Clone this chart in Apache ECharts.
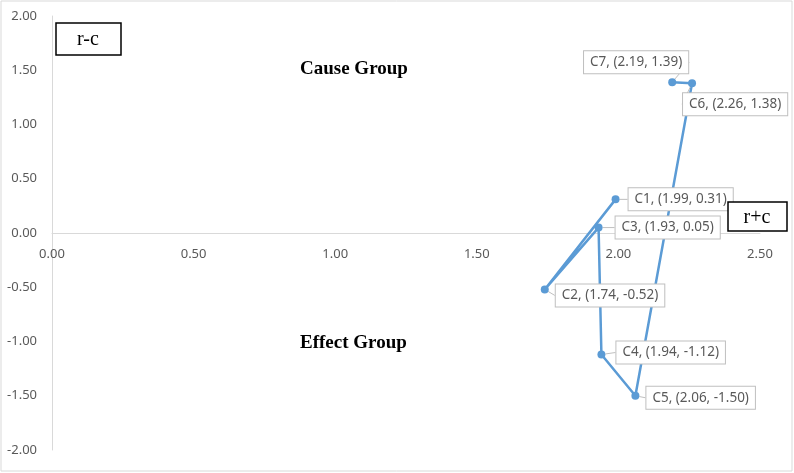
<!DOCTYPE html>
<html>
<head>
<meta charset="utf-8">
<script src="https://cdn.jsdelivr.net/npm/echarts@6/dist/echarts.min.js"></script>
<style>
  html, body { margin: 0; padding: 0; background: #fff; }
  #main { width: 794px; height: 473px; }
</style>
</head>
<body>
<div id="main"></div>
<script>
// criteria names and (r+c, r-c) values
var names = ['C1', 'C2', 'C3', 'C4', 'C5', 'C6', 'C7'];
var rPlusC = [1.99, 1.74, 1.93, 1.94, 2.06, 2.26, 2.19];
var rMinusC = [0.31, -0.52, 0.05, -1.12, -1.50, 1.38, 1.39];

var tickFont = 'Noto Sans';
var blue = '#5b9bd5';

// label nudges (style only)
var labelPos = ['right', 'right', 'right', 'right', 'right', 'right', 'left'];
var labelShift = [[4, 0], [2, 6], [8, 0], [6, -2], [2, 2], [-18, 21], [25, -20]];

var points = names.map(function (n, i) {
  return { name: n, value: [rPlusC[i], rMinusC[i]], label: { position: labelPos[i] } };
});

var gridTop = 16, gridBottom = 23;
var plotH = 473 - gridTop - gridBottom;

var myChart = echarts.init(document.getElementById('main'));
myChart.setOption({
  animation: false,
  grid: { left: 52, right: 34, top: gridTop, bottom: gridBottom, outerBoundsMode: 'none', containLabel: false },
  xAxis: {
    type: 'value',
    min: 0,
    max: 2.5,
    interval: 0.5,
    offset: -plotH / 2,
    axisLine: { onZero: false, lineStyle: { color: '#d9d9d9', width: 1 } },
    axisTick: { show: false },
    splitLine: { show: false },
    axisLabel: {
      margin: 15,
      color: '#595959',
      fontFamily: tickFont,
      fontSize: 13,
      formatter: function (v) { return v.toFixed(2); }
    }
  },
  yAxis: {
    type: 'value',
    min: -2,
    max: 2,
    interval: 0.5,
    axisLine: { show: true, onZero: false, lineStyle: { color: '#d9d9d9', width: 1 } },
    axisTick: { show: false },
    splitLine: { show: false },
    axisLabel: {
      margin: 15,
      color: '#595959',
      fontFamily: tickFont,
      fontSize: 13,
      formatter: function (v) { return v.toFixed(2); }
    }
  },
  series: [{
    type: 'line',
    data: points,
    showSymbol: true,
    symbol: 'circle',
    symbolSize: 8,
    itemStyle: { color: blue },
    lineStyle: { color: blue, width: 2.5 },
    label: {
      show: true,
      formatter: function (p) {
        return p.name + ', (' + p.value[0].toFixed(2) + ', ' + p.value[1].toFixed(2) + ')';
      },
      color: '#595959',
      fontFamily: tickFont,
      fontSize: 13.5,
      backgroundColor: '#ffffff',
      borderColor: '#bfbfbf',
      borderWidth: 1,
      padding: [4, 6, 4, 6]
    },
    labelLine: { show: true, lineStyle: { color: '#bfbfbf', width: 1 } },
    labelLayout: function (p) {
      var s = labelShift[p.dataIndex];
      return { dx: s[0], dy: s[1] };
    }
  }],
  graphic: [{
    type: 'rect',
    shape: { x: 1, y: 1, width: 791, height: 470 },
    style: { fill: 'none', stroke: '#d9d9d9', lineWidth: 1 },
    silent: true
  }, {
    type: 'rect',
    shape: { x: 56, y: 23, width: 65, height: 32 },
    style: { fill: '#fff', stroke: '#000', lineWidth: 1.5 }
  }, {
    type: 'text',
    x: 88, y: 40,
    style: { text: 'r-c', font: '20px "Liberation Serif"', fill: '#000', align: 'center', verticalAlign: 'middle' }
  }, {
    type: 'rect',
    shape: { x: 728, y: 202, width: 59, height: 29 },
    style: { fill: '#fff', stroke: '#000', lineWidth: 1.5 },
    z: 10
  }, {
    type: 'text',
    x: 757, y: 218,
    style: { text: 'r+c', font: '20px "Liberation Serif"', fill: '#000', align: 'center', verticalAlign: 'middle' },
    z: 11
  }, {
    type: 'text',
    x: 300, y: 69,
    style: { text: 'Cause Group', font: 'bold 19px "Liberation Serif"', fill: '#000', verticalAlign: 'middle' }
  }, {
    type: 'text',
    x: 300, y: 343,
    style: { text: 'Effect Group', font: 'bold 19px "Liberation Serif"', fill: '#000', verticalAlign: 'middle' }
  }]
});
</script>
</body>
</html>
